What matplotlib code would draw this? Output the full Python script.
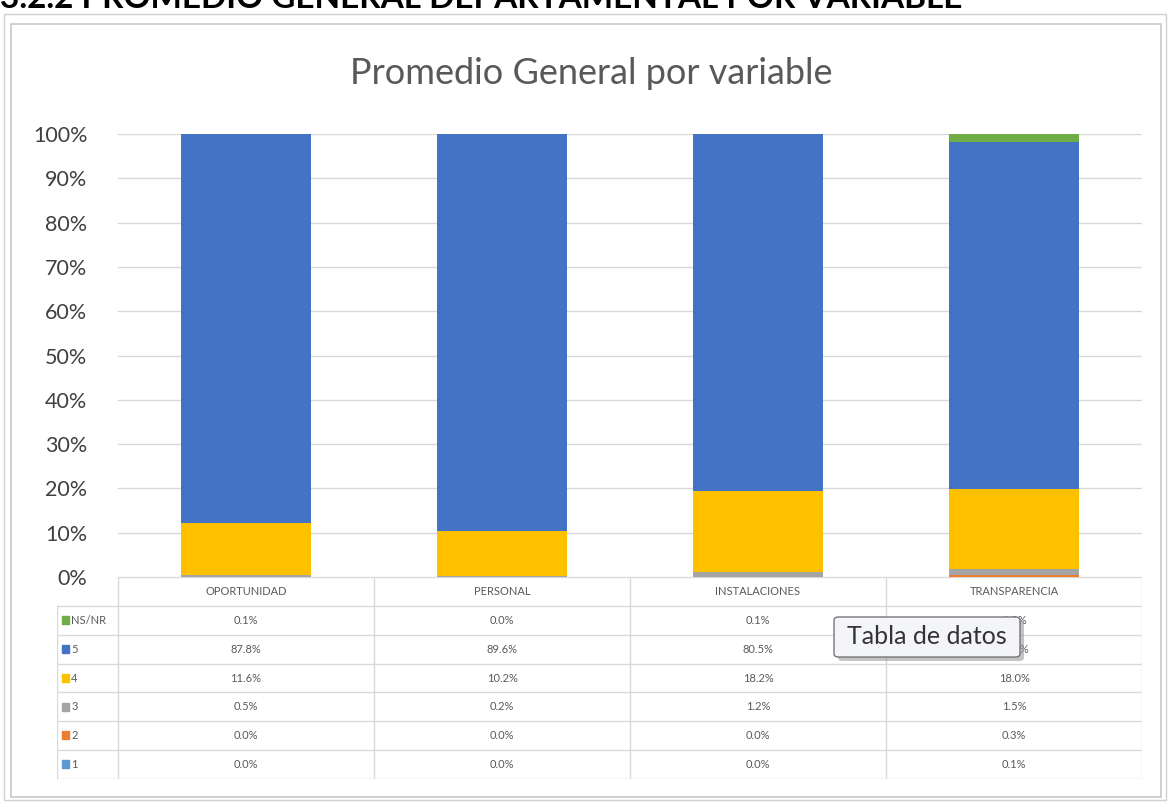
import matplotlib.pyplot as plt
from matplotlib.patches import Rectangle, FancyBboxPatch
import numpy as np

plt.rcParams['font.family'] = ['Lato', 'DejaVu Sans']

categories = ["OPORTUNIDAD", "PERSONAL", "INSTALACIONES", "TRANSPARENCIA"]
# stacked from bottom to top
series = ["1", "2", "3", "4", "5", "NS/NR"]
v1 = [0.0, 0.0, 0.0, 0.1]
v2 = [0.0, 0.0, 0.0, 0.3]
v3 = [0.5, 0.2, 1.2, 1.5]
v4 = [11.6, 10.2, 18.2, 18.0]
v5 = [87.8, 89.6, 80.5, 78.2]
vns = [0.1, 0.0, 0.1, 1.9]
colors = ["#5B9BD5", "#ED7D31", "#A5A5A5", "#FFC000", "#4472C4", "#70AD47"]
yticks = [0, 10, 20, 30, 40, 50, 60, 70, 80, 90, 100]

W, H = 1169, 802
fig = plt.figure(figsize=(W / 100, H / 100), dpi=100)

def fx(px):
    return px / W

def fy(py):
    return 1 - py / H

# chart frame
fig.patches.append(Rectangle((fx(11), fy(797)), fx(1150), fy(24) - fy(797), transform=fig.transFigure,
                             fill=False, edgecolor="#C8C8C8", lw=1.2))
fig.patches.append(Rectangle((fx(4), fy(800)), fx(1162), fy(14) - fy(800), transform=fig.transFigure,
                             fill=False, edgecolor="#D0D0D0", lw=1.0))
# section heading, cut by the top edge as in the screenshot
fig.text(fx(0), fy(8), "3.2.2 PROMEDIO GENERAL DEPARTAMENTAL POR VARIABLE", fontsize=24,
         fontweight="bold", va="baseline", ha="left")

# main bar axes
ax = fig.add_axes([fx(118), fy(577), fx(1142) - fx(118), fy(134) - fy(577)])
x = np.arange(len(categories))
vals = [v1, v2, v3, v4, v5, vns]
bottom = np.zeros(len(categories))
for name, v, c in zip(series, vals, colors):
    ax.bar(x, v, 0.51, bottom=bottom, color=c, zorder=3, label=name)
    bottom += np.array(v)
ax.set_xlim(-0.5, 3.5)
ax.set_ylim(0, 100)
ax.set_yticks(yticks)
ax.set_yticklabels([f"{t}%" for t in yticks], fontsize=15.5, color="#404040")
ax.set_xticks([])
ax.grid(axis="y", color="#D9D9D9", lw=1, zorder=0)
for s in ax.spines.values():
    s.set_visible(False)
ax.tick_params(axis="y", length=0, pad=22)
fig.text(fx(591), fy(73), "Promedio General por variable", fontsize=26, color="#595959", ha="center", va="center")

# data table
tax = fig.add_axes([fx(57), fy(779), fx(1142) - fx(57), fy(577) - fy(779)])
lab_w = 61 / 256
tax.set_xlim(-0.5 - lab_w, 3.5)
tax.set_ylim(7, 0)
tax.axis("off")
lc = "#D9D9D9"
tax.plot([-0.5, 3.5], [0, 0], color=lc, lw=1)
for i in range(len(categories) + 1):
    tax.plot([i - 0.5, i - 0.5], [0, 7], color=lc, lw=1)
tax.plot([-0.5 - lab_w, -0.5 - lab_w], [1, 7], color=lc, lw=1)
for r in range(1, 8):
    tax.plot([-0.5 - lab_w, 3.5], [r, r], color=lc, lw=1)
for i, cat in enumerate(categories):
    tax.text(i, 0.5, cat, fontsize=8, ha="center", va="center", color="#595959")
rows = list(zip(series, vals, colors))[::-1]
for r, (name, v, c) in enumerate(rows, start=1):
    tax.add_patch(Rectangle((-0.5 - lab_w + 0.02, r + 0.35), 0.025, 0.28, color=c))
    tax.text(-0.5 - lab_w + 0.055, r + 0.5, name, fontsize=8, ha="left", va="center", color="#595959")
    for i in range(len(categories)):
        tax.text(i, r + 0.5, f"{v[i]:.1f}%", fontsize=8, ha="center", va="center", color="#595959")

# tooltip
fig.patches.append(FancyBboxPatch((fx(838), fy(661)), fx(1024) - fx(838), fy(621) - fy(661),
                                  boxstyle="round,pad=0,rounding_size=0.004", transform=fig.transFigure,
                                  facecolor="#8A8A8A", edgecolor="none", alpha=0.5, zorder=9))
fig.patches.append(FancyBboxPatch((fx(834), fy(657)), fx(1020) - fx(834), fy(617) - fy(657),
                                  boxstyle="round,pad=0,rounding_size=0.004", transform=fig.transFigure,
                                  facecolor="#F4F5F9", edgecolor="#767676", lw=1, zorder=10))
fig.text(fx(927), fy(636), "Tabla de datos", fontsize=18, ha="center", va="center", color="#333333", zorder=11)

plt.savefig("out.png", dpi=100)
